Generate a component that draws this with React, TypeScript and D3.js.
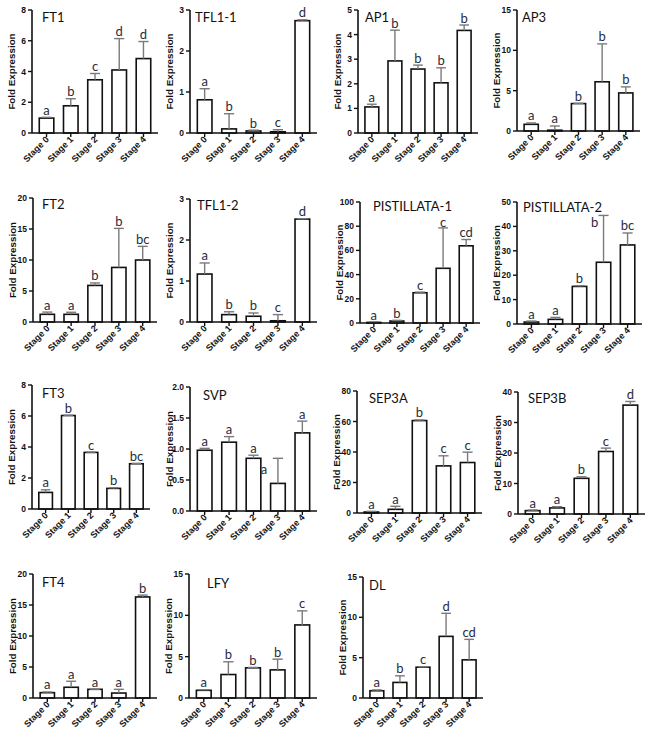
import React from "react";
import * as d3 from "d3";

const stages = ["Stage 0", "Stage 1", "Stage 2", "Stage 3", "Stage 4"];
const genes = ["FT1", "TFL1-1", "AP1", "AP3", "FT2", "TFL1-2", "PISTILLATA-1", "PISTILLATA-2", "FT3", "SVP", "SEP3A", "SEP3B", "FT4", "LFY", "DL"];
const means = [
  [0.97, 1.77, 3.46, 4.1, 4.84],
  [0.81, 0.1, 0.05, 0.03, 2.74],
  [1.06, 2.93, 2.6, 2.04, 4.17],
  [0.83, 0.1, 3.4, 6.1, 4.72],
  [1.24, 1.24, 5.9, 8.8, 10.0],
  [1.17, 0.18, 0.14, 0.03, 2.51],
  [0.5, 1.6, 25, 45.2, 63.8],
  [0.8, 1.9, 15.4, 25.3, 32.4],
  [1.07, 6.03, 3.65, 1.33, 2.92],
  [0.98, 1.11, 0.85, 0.445, 1.26],
  [0.65, 2.4, 60.6, 30.9, 33.1],
  [1.1, 2.0, 11.7, 20.5, 35.7],
  [0.86, 1.73, 1.4, 0.8, 16.3],
  [0.93, 2.84, 3.65, 3.4, 8.84],
  [0.9, 1.93, 3.82, 7.64, 4.73],
];
const errors = [
  [0.05, 0.46, 0.41, 2.04, 1.11],
  [0.27, 0.37, 0.02, 0.05, 0.02],
  [0.11, 1.25, 0.16, 0.61, 0.22],
  [0.17, 0.52, 0.03, 4.7, 0.75],
  [0.36, 0.33, 0.4, 6.3, 2.2],
  [0.27, 0.07, 0.08, 0.15, 0.01],
  [0.3, 0.6, 0.5, 33.4, 5.2],
  [0.4, 0.8, 0.3, 19.2, 4.9],
  [0.17, 0.02, 0.02, 0.04, 0.02],
  [0.03, 0.09, 0.05, 0.405, 0.19],
  [0.45, 2.0, 0.4, 6.6, 6.8],
  [0.2, 0.4, 0.5, 1.1, 1.2],
  [0.11, 0.97, 0.02, 0.6, 0.3],
  [0.07, 1.54, 0.05, 1.3, 1.7],
  [0.1, 0.82, 0.04, 2.86, 2.54],
];
const letters = [
  ["a", "b", "c", "d", "d"],
  ["a", "b", "b", "c", "d"],
  ["a", "b", "b", "b", "b"],
  ["a", "a", "b", "b", "b"],
  ["a", "a", "b", "b", "bc"],
  ["a", "b", "b", "c", "d"],
  ["a", "b", "c", "c", "cd"],
  ["a", "a", "b", "b", "bc"],
  ["a", "b", "c", "b", "bc"],
  ["a", "a", "a", "a", "a"],
  ["a", "a", "b", "c", "c"],
  ["a", "a", "b", "c", "d"],
  ["a", "a", "a", "a", "b"],
  ["a", "b", "b", "b", "c"],
  ["a", "b", "c", "d", "cd"],
];
const yMaxes = [8, 3, 5, 15, 20, 3, 100, 50, 8, 2, 80, 40, 20, 15, 15];
const ySteps = [2, 1, 1, 5, 5, 1, 20, 10, 2, 0.5, 20, 10, 5, 5, 5];
const yLabel = "Fold Expression";

// layout: [axisX, axisEndX, topTickY, zeroY, titleDx, titleDy]
const frames = [
  [32, 158, 10, 133, 10, 12],
  [190, 317, 10, 133, 5, 12],
  [358, 478, 10, 133, 7, 12],
  [517, 640, 10, 131, 5, 12],
  [33, 157, 198, 322, 9, 11],
  [190, 317, 199, 322, 7, 11],
  [360, 480, 202, 323, 13, 9],
  [517, 642, 202, 324, 6, 10],
  [32, 150, 385, 509, 10, 13],
  [190, 317, 387, 511, 13, 13],
  [357, 482, 391, 513, 12, 12],
  [518, 645, 392, 514, 10, 11],
  [33, 157, 574, 698, 9, 13],
  [189, 317, 574, 698, 18, 14],
  [363, 483, 577, 698, 6, 13],
];
// letter nudges for letters drawn beside the error bar: [panel, stage, dx, dy]
const letterNudges = [
  [9, 3, -14, 18],
  [7, 3, -9, 14],
  [6, 3, 0, 2],
];

const sans = "'Liberation Sans', Arial, sans-serif";
const soft = "Lato, 'Open Sans', sans-serif";

function Panel({ idx }: { idx: number }) {
  const [ax, ex, ty, zy, tdx, tdy] = frames[idx];
  const x = d3.scaleBand<string>().domain(stages).range([ax, ex]).paddingInner(0.4).paddingOuter(0.3);
  const y = d3.scaleLinear().domain([0, yMaxes[idx]]).range([zy, ty]);
  const ticks = d3.range(0, yMaxes[idx] + ySteps[idx] / 2, ySteps[idx]);
  const fmt = ySteps[idx] < 1 ? d3.format(".1f") : d3.format("d");
  const bw = x.bandwidth();
  const cap = bw * 0.7;
  return (
    <g>
      {stages.map((s, i) => {
        const v = means[idx][i];
        const top = y(v);
        return (
          <rect key={"b" + i} x={x(s)!} y={top} width={bw} height={zy - top}
            fill="#fff" stroke="#111" strokeWidth={1.6} />
        );
      })}
      {stages.map((s, i) => {
        const cx = x(s)! + bw / 2;
        const top = y(means[idx][i]);
        const et = y(means[idx][i] + errors[idx][i]);
        return (
          <g key={"e" + i} stroke="#7a7a7a" strokeWidth={1.4}>
            <line x1={cx} x2={cx} y1={top} y2={et} />
            <line x1={cx - cap / 2} x2={cx + cap / 2} y1={et} y2={et} />
          </g>
        );
      })}
      {stages.map((s, i) => {
        const nudge = letterNudges.find((n) => n[0] === idx && n[1] === i);
        const cx = x(s)! + bw / 2 + (nudge ? nudge[2] : 0);
        const et = y(means[idx][i] + errors[idx][i]) - 2.5 + (nudge ? nudge[3] : 0);
        return (
          <text key={"l" + i} x={cx} y={et} textAnchor="middle" fontFamily={soft}
            fontSize={13} fill="#2a2c3c">{letters[idx][i]}</text>
        );
      })}
      <line x1={ax} x2={ax} y1={ty} y2={zy} stroke="#111" strokeWidth={1.6} />
      {ticks.map((t, i) => (
        <g key={"t" + i}>
          <line x1={ax - 4} x2={ax} y1={y(t)} y2={y(t)} stroke="#111" strokeWidth={1.4} />
          <text x={ax - 6} y={y(t) + 3} textAnchor="end" fontFamily={sans} fontWeight="bold" fontSize={8.5} fill="#111">{fmt(t)}</text>
        </g>
      ))}
      <line x1={ax} x2={ex} y1={zy} y2={zy} stroke="#111" strokeWidth={1.6} />
      {stages.map((s, i) => {
        const cx = x(s)! + bw / 2;
        return (
          <g key={"x" + i}>
            <line x1={cx} x2={cx} y1={zy} y2={zy + 4} stroke="#111" strokeWidth={1.4} />
            <text transform={`translate(${cx + 3},${zy + 7}) rotate(-45)`} textAnchor="end" fontFamily={sans}
              fontWeight="bold" fontSize={9} fill="#111">{s}</text>
          </g>
        );
      })}
      <text transform={`translate(${ax - 17},${(ty + zy) / 2}) rotate(-90)`} textAnchor="middle" fontFamily={sans}
        fontWeight="bold" fontSize={9.8} fill="#111">{yLabel}</text>
      <text x={ax + tdx} y={ty + tdy} fontFamily={soft} fontSize={13} fill="#111">{genes[idx]}</text>
    </g>
  );
}

export default function App() {
  return (
    <svg width={649} height={735} style={{ position: "absolute", left: 0, top: 0, background: "#fff" }}>
      <rect width={649} height={735} fill="#fff" />
      {genes.map((g, i) => <Panel key={g} idx={i} />)}
    </svg>
  );
}
